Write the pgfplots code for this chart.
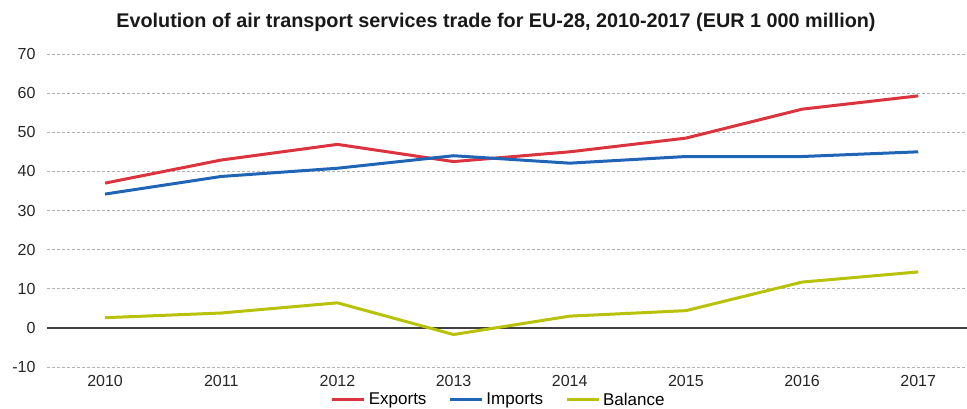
\documentclass[border=0pt]{standalone}
\usepackage{fontspec}
\setmainfont{Liberation Sans}
\usepackage{pgfplots}
\pgfplotsset{compat=1.18}
\definecolor{cexp}{RGB}{220,52,62}
\definecolor{cimp}{RGB}{32,100,182}
\definecolor{cbal}{RGB}{184,194,10}
\begin{document}
\begin{tikzpicture}
\begin{axis}[
  name=ax, at={(0pt,0pt)}, anchor=south west,
  scale only axis, width=920pt, height=313pt,
  xmin=-0.5, xmax=7.42, ymin=-10, ymax=70,
  xtick={0,...,7},
  xticklabels={2010,2011,2012,2013,2014,2015,2016,2017},
  ytick={-10,10,20,30,40,50,60,70},
  extra y ticks={0},
  extra y tick style={grid style={solid, black!75, line width=1.4pt}},
  ymajorgrids,
  grid style={densely dashed, black!30, line width=0.6pt},
  axis line style={draw=none},
  major tick length=0pt,
  tick label style={font=\fontsize{16}{18}\selectfont, text=black!85},
  /pgf/number format/assume math mode=true,
  yticklabel style={xshift=-8pt},
  xticklabel style={yshift=-5pt},
  legend style={at={(0.491,-0.105)}, anchor=center, draw=none, legend columns=3,
    font=\fontsize{17}{19}\selectfont, inner sep=0pt,
    /tikz/every even column/.append style={column sep=20pt},
    /tikz/every odd column/.append style={column sep=1pt}},
  legend cell align=left,
  legend image code/.code={\draw[#1, line width=3pt] (0pt,0pt) -- (32pt,0pt);},
  clip=false,
]
\addplot[cexp, line width=3pt] coordinates {(0,37.0) (1,42.9) (2,46.9) (3,42.5) (4,45.0) (5,48.5) (6,55.9) (7,59.3)};
\addlegendentry{Exports}
\addplot[cimp, line width=3pt] coordinates {(0,34.2) (1,38.7) (2,40.8) (3,44.0) (4,42.1) (5,43.8) (6,43.8) (7,45.0)};
\addlegendentry{Imports}
\addplot[cbal, line width=3pt] coordinates {(0,2.6) (1,3.8) (2,6.4) (3,-1.7) (4,3.0) (5,4.4) (6,11.7) (7,14.3)};
\addlegendentry{Balance}
\end{axis}
\node[font=\bfseries\fontsize{19.8}{22}\selectfont, text=black!90] at ([shift={(449pt,345pt)}]ax.south west) {Evolution of air transport services trade for EU-28, 2010-2017 (EUR 1 000 million)};
\pgfresetboundingbox
\useasboundingbox ([shift={(-47pt,-42pt)}]ax.south west) rectangle ([shift={(920pt,367pt)}]ax.south west);
\end{tikzpicture}
\end{document}
